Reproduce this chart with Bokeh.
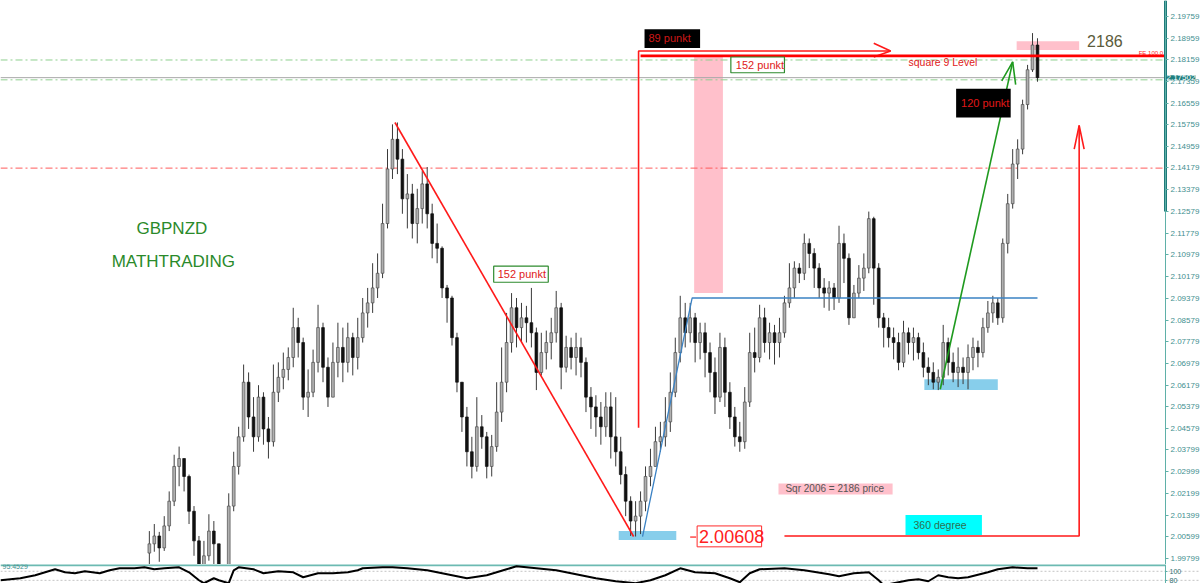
import numpy as np
from bokeh.plotting import figure
from bokeh.models import Range1d, FixedTicker, ColumnDataSource, Label, PrintfTickFormatter
from bokeh.layouts import column
from bokeh.embed import file_html
from bokeh.resources import INLINE
from bokeh.core.properties import value

# ---------------- data ----------------
first_open = 2.0000
closes = [
    2.0034, 2.0063, 2.0019, 2.0100, 2.0191, 2.0319, 2.0348, 2.0282, 2.0154, 2.0045,
    1.9935, 1.9990, 2.0081, 2.0034, 1.9899, 1.9862, 2.0173, 2.0319, 2.0428, 2.0629,
    2.0501, 2.0428, 2.0574, 2.0457, 2.0410, 2.0592, 2.0647, 2.0676, 2.0720, 2.0830,
    2.0775, 2.0574, 2.0592, 2.0702, 2.0830, 2.0684, 2.0574, 2.0702, 2.0757, 2.0702,
    2.0793, 2.0720, 2.0793, 2.0884, 2.0921, 2.0976, 2.1030, 2.1213, 2.1414, 2.1523,
    2.1450, 2.1304, 2.1322, 2.1213, 2.1268, 2.1359, 2.1249, 2.1140, 2.1122, 2.0976,
    2.0939, 2.0793, 2.0629, 2.0501, 2.0373, 2.0319, 2.0465, 2.0428, 2.0319, 2.0392,
    2.0519, 2.0629, 2.0775, 2.0903, 2.0830, 2.0866, 2.0848, 2.0811, 2.0665, 2.0738,
    2.0775, 2.0811, 2.0903, 2.0684, 2.0757, 2.0720, 2.0757, 2.0702, 2.0574, 2.0538,
    2.0501, 2.0465, 2.0538, 2.0428, 2.0373, 2.0289, 2.0191, 2.0118, 2.0136, 2.0191,
    2.0282, 2.0319, 2.0410, 2.0428, 2.0483, 2.0592, 2.0738, 2.0866, 2.0811, 2.0866,
    2.0775, 2.0811, 2.0738, 2.0665, 2.0574, 2.0757, 2.0592, 2.0501, 2.0428, 2.0410,
    2.0556, 2.0738, 2.0720, 2.0866, 2.0775, 2.0811, 2.0775, 2.0811, 2.0921, 2.0976,
    2.1049, 2.1030, 2.1140, 2.1103, 2.1049, 2.0976, 2.0957, 2.0976, 2.0939, 2.1140,
    2.1085, 2.0866, 2.0957, 2.1012, 2.1049, 2.1231, 2.1049, 2.0866, 2.0830, 2.0793,
    2.0775, 2.0702, 2.0811, 2.0775, 2.0793, 2.0738, 2.0684, 2.0665, 2.0629, 2.0647,
    2.0775, 2.0702, 2.0665, 2.0684, 2.0665, 2.0720, 2.0757, 2.0738, 2.0830, 2.0884,
    2.0921, 2.0866, 2.1140, 2.1286, 2.1432, 2.1487, 2.1651, 2.1779, 2.1870, 2.1750,
]
highs = [
    2.0081, 2.0107, 2.0078, 2.0136, 2.0227, 2.0362, 2.0392, 2.0348, 2.0289, 2.0173,
    2.0063, 2.0045, 2.0143, 2.0118, 1.9990, 1.9935, 2.0220, 2.0373, 2.0465, 2.0694,
    2.0665, 2.0574, 2.0618, 2.0592, 2.0501, 2.0694, 2.0702, 2.0738, 2.0757, 2.0903,
    2.0866, 2.0793, 2.0676, 2.0749, 2.0914, 2.0848, 2.0720, 2.0775, 2.0848, 2.0830,
    2.0848, 2.0811, 2.0866, 2.0939, 2.0976, 2.1067, 2.1103, 2.1286, 2.1487, 2.1578,
    2.1585, 2.1487, 2.1395, 2.1359, 2.1341, 2.1406, 2.1421, 2.1286, 2.1213, 2.1129,
    2.0987, 2.0947, 2.0811, 2.0629, 2.0538, 2.0428, 2.0574, 2.0508, 2.0446, 2.0435,
    2.0629, 2.0757, 2.0884, 2.0957, 2.0939, 2.0921, 2.0910, 2.0976, 2.0830, 2.0811,
    2.0819, 2.0866, 2.0965, 2.0921, 2.0800, 2.0793, 2.0811, 2.0793, 2.0720, 2.0611,
    2.0581, 2.0556, 2.0592, 2.0592, 2.0574, 2.0428, 2.0319, 2.0209, 2.0191, 2.0227,
    2.0319, 2.0384, 2.0465, 2.0483, 2.0574, 2.0665, 2.0793, 2.0947, 2.0921, 2.0921,
    2.0884, 2.0848, 2.0848, 2.0775, 2.0720, 2.0811, 2.0793, 2.0629, 2.0538, 2.0483,
    2.0611, 2.0811, 2.0830, 2.0914, 2.0903, 2.0848, 2.0840, 2.0866, 2.0947, 2.1067,
    2.1074, 2.1067, 2.1176, 2.1158, 2.1122, 2.1067, 2.1012, 2.1001, 2.0994, 2.1205,
    2.1176, 2.1103, 2.0987, 2.1060, 2.1103, 2.1257, 2.1238, 2.1067, 2.0884, 2.0866,
    2.0830, 2.0811, 2.0855, 2.0830, 2.0830, 2.0811, 2.0775, 2.0720, 2.0702, 2.0676,
    2.0840, 2.0793, 2.0738, 2.0757, 2.0720, 2.0768, 2.0793, 2.0782, 2.0866, 2.0928,
    2.0947, 2.0939, 2.1158, 2.1322, 2.1487, 2.1523, 2.1669, 2.1797, 2.1914, 2.1895,
]
lows = [
    1.9935, 2.0005, 1.9968, 2.0008, 2.0081, 2.0173, 2.0246, 2.0227, 2.0107, 1.9990,
    1.9881, 1.9899, 1.9972, 1.9935, 1.9844, 1.9808, 1.9844, 2.0154, 2.0289, 2.0410,
    2.0457, 2.0373, 2.0410, 2.0399, 2.0348, 2.0392, 2.0556, 2.0603, 2.0636, 2.0684,
    2.0720, 2.0527, 2.0501, 2.0574, 2.0665, 2.0629, 2.0538, 2.0611, 2.0647, 2.0629,
    2.0665, 2.0654, 2.0676, 2.0775, 2.0830, 2.0884, 2.0939, 2.1012, 2.1195, 2.1377,
    2.1395, 2.1249, 2.1195, 2.1158, 2.1140, 2.1213, 2.1195, 2.1085, 2.1067, 2.0939,
    2.0848, 2.0764, 2.0592, 2.0446, 2.0319, 2.0275, 2.0300, 2.0384, 2.0275, 2.0282,
    2.0373, 2.0483, 2.0592, 2.0738, 2.0757, 2.0775, 2.0775, 2.0757, 2.0600, 2.0654,
    2.0676, 2.0713, 2.0775, 2.0603, 2.0665, 2.0676, 2.0654, 2.0647, 2.0519, 2.0457,
    2.0428, 2.0399, 2.0428, 2.0348, 2.0319, 2.0253, 2.0136, 2.0063, 2.0061, 2.0070,
    2.0154, 2.0246, 2.0319, 2.0373, 2.0392, 2.0446, 2.0574, 2.0702, 2.0757, 2.0775,
    2.0702, 2.0713, 2.0647, 2.0592, 2.0512, 2.0556, 2.0538, 2.0457, 2.0392, 2.0373,
    2.0384, 2.0538, 2.0665, 2.0702, 2.0738, 2.0713, 2.0694, 2.0720, 2.0793, 2.0903,
    2.0939, 2.0994, 2.1005, 2.1049, 2.0976, 2.0939, 2.0903, 2.0892, 2.0895, 2.0921,
    2.0994, 2.0840, 2.0903, 2.0939, 2.0965, 2.1030, 2.0914, 2.0830, 2.0757, 2.0757,
    2.0713, 2.0673, 2.0684, 2.0731, 2.0709, 2.0713, 2.0647, 2.0618, 2.0603, 2.0600,
    2.0618, 2.0654, 2.0629, 2.0611, 2.0622, 2.0603, 2.0673, 2.0684, 2.0720, 2.0811,
    2.0848, 2.0840, 2.0848, 2.1103, 2.1268, 2.1377, 2.1468, 2.1633, 2.1771, 2.1735,
]

# oscillator sub-window (bar index, value)
osc_x = [-30, -26, -23, -21, -19, -17, -15, -13, -10, -8, -6, -3, -1, 1, 3, 6, 8, 10, 11, 13,
         14, 16, 17, 18, 21, 23, 26, 29, 31, 34, 37, 40, 42, 43, 47, 49, 52, 56, 60, 64,
         68, 72, 74, 78, 82, 86, 90, 94, 98, 101, 104, 107, 110, 114, 117, 119, 121, 123, 128, 132,
         137, 139, 142, 145, 147, 148, 150, 153, 155, 157, 159, 161, 163, 165, 169, 171, 174, 177, 179]
osc_v = [80.2, 84.6, 91.2, 97.8, 104.4, 97.8, 95.6, 100, 95.6, 102.2, 106.6, 106.6, 108.8, 104.4, 106.6, 108.8, 97.8, 80.2, 73.6, 84.6,
         80.2, 73.6, 102.2, 108.8, 104.4, 95.6, 100, 97.8, 86.8, 95.6, 95.6, 97.8, 102.2, 106.6, 108.8, 108.8, 106.6, 102.2, 93.4, 84.6,
         91.2, 104.4, 111, 106.6, 102.2, 93.4, 84.6, 78, 73.6, 80.2, 91.2, 106.6, 97.8, 95.6, 84.6, 75.8, 95.6, 104.4, 106.6, 102.2,
         93.4, 89, 95.6, 97.8, 80.2, 69.2, 73.6, 80.2, 82.4, 78, 91.2, 86.8, 84.6, 86.8, 97.8, 104.4, 108.8, 106.6, 106.6]
osc_levels = [100, 80]
osc_level_labels = ["100", "80"]
osc_value_text = "95.4529"

price_tick_labels = ["2.19759", "2.18959", "2.18159", "2.17359", "2.16559", "2.15759", "2.14959",
                     "2.14179", "2.13379", "2.12579", "2.11779", "2.10979", "2.10179", "2.09379",
                     "2.08579", "2.07779", "2.06979", "2.06179", "2.05379", "2.04579", "2.03799",
                     "2.02999", "2.02199", "2.01399", "2.00599", "1.99799"]
current_price = 2.1750
current_price_text = "2.17502"

# horizontal levels
level_green_1 = 2.1815
level_green_2 = 2.1742
level_red_dd = 2.1417
level_fe100 = 2.1830

# drawn objects (bar index, price)
red_trend_x = [49.5, 97.6]
red_trend_y = [2.1585, 2.0061]
blue_trend_x = [99.4, 109.4, 179.0]
blue_trend_y = [2.0061, 2.0939, 2.0939]
green_arrow_x = [159.4, 174.0]
green_arrow_y = [2.0603, 2.1808]
green_head_x = [171.8, 174.0, 174.6]
green_head_y = [2.1738, 2.1808, 2.1724]
red_bracket_x = [98.6, 98.6, 149.4]
red_bracket_y = [2.0461, 2.1848, 2.1848]
red_bracket_head_x = [146.0, 149.4, 146.0]
red_bracket_head_y = [2.1877, 2.1848, 2.1826]
fe_line_start = 99.0
red_base_x = [128.0, 187.4, 187.4]
red_base_y = [2.0063, 2.0063, 2.1574]
red_up_head_x = [186.4, 187.4, 188.4]
red_up_head_y = [2.1487, 2.1574, 2.1487]
low_leader_x = [109.0, 110.2]
low_leader_y = [2.0059, 2.0059]

# rectangles: left, right, top, bottom
pink_rects = dict(left=[109.8, 174.8], right=[115.6, 187.4], top=[2.1830, 2.1884], bottom=[2.0957, 2.1852])
blue_rects = dict(left=[94.6, 156.2], right=[106.2, 171.0], top=[2.0081, 2.0640], bottom=[2.0048, 2.0600])

# ---------------- figure ----------------
FONT = "Liberation Sans"
TEAL = "#5fb0a8"
TEAL_TXT = "#3f8f8f"
W = 1200
AXIS_PX = 1165
X0, XA = -30.0, 204.8                      # chart left edge, price-scale line
X1 = X0 + (XA - X0) * W / AXIS_PX          # canvas right edge
Y0, Y1 = 1.9958, 2.2034

p = figure(width=W, height=564, x_range=Range1d(X0, X1), y_range=Range1d(Y0, Y1),
           output_backend="svg", toolbar_location=None, y_axis_location="right",
           x_axis_location=None, min_border=0)
p.grid.visible = False
p.outline_line_color = None
p.background_fill_color = "white"

ax = p.yaxis[0]
ax.fixed_location = XA
ax.ticker = FixedTicker(ticks=[float(s) for s in price_tick_labels])
ax.formatter = PrintfTickFormatter(format="%.5f")
ax.major_label_text_font = FONT
ax.major_label_text_font_size = "8px"
ax.major_label_text_color = TEAL_TXT
ax.axis_line_color = TEAL
ax.major_tick_line_color = TEAL
ax.major_tick_out = 3
ax.major_tick_in = 0
ax.minor_tick_line_color = None
ax.major_label_standoff = 2

# background objects
p.quad(source=ColumnDataSource(pink_rects), left="left", right="right", top="top", bottom="bottom",
       fill_color="#ffc0cb", line_color=None)
p.quad(source=ColumnDataSource(blue_rects), left="left", right="right", top="top", bottom="bottom",
       fill_color="#87ceeb", line_color=None)

# level lines (end at the price scale)
p.line([X0, XA], [level_green_1] * 2, line_color="#8fcf8f", line_width=1, line_dash="7 3 2 3")
p.line([X0, XA], [level_green_2] * 2, line_color="#8fcf8f", line_width=1, line_dash="7 3 2 3")
p.line([X0, XA], [current_price] * 2, line_color="#a8a8a8", line_width=1)
p.line([X0, XA], [level_red_dd] * 2, line_color="#ff5a5a", line_width=1, line_dash="7 3 2 3")

# candles
opens = [first_open] + closes[:-1]
idx = list(range(len(closes)))
hi = np.maximum(np.maximum(highs, opens), closes)
lo = np.minimum(np.minimum(lows, opens), closes)
up = [i for i in idx if closes[i] >= opens[i]]
dn = [i for i in idx if closes[i] < opens[i]]
src_all = ColumnDataSource(dict(x=idx, hi=hi, lo=lo))
p.segment(x0="x", y0="lo", x1="x", y1="hi", source=src_all, line_color="#3a3a3a", line_width=1)
src_up = ColumnDataSource(dict(x=up, top=[closes[i] for i in up], bottom=[opens[i] for i in up]))
src_dn = ColumnDataSource(dict(x=dn, top=[opens[i] for i in dn], bottom=[closes[i] for i in dn]))
p.vbar(x="x", width=0.55, top="top", bottom="bottom", source=src_up,
       fill_color="#b0b0b0", line_color="#4a4a4a", line_width=0.7)
p.vbar(x="x", width=0.55, top="top", bottom="bottom", source=src_dn,
       fill_color="#111111", line_color="#111111", line_width=0.7)

# trend lines and arrows
p.line(red_trend_x, red_trend_y, line_color="#ff1a1a", line_width=1.6)
p.line(blue_trend_x, blue_trend_y, line_color="#3b82c4", line_width=1.3)
p.line(green_arrow_x, green_arrow_y, line_color="#1f9a1f", line_width=1.6)
p.line(green_head_x, green_head_y, line_color="#1f9a1f", line_width=1.6)
p.line(red_bracket_x, red_bracket_y, line_color="#ff1a1a", line_width=1.6)
p.line(red_bracket_head_x, red_bracket_head_y, line_color="#ff1a1a", line_width=1.6)
p.line([fe_line_start, XA], [level_fe100, level_fe100], line_color="#ff0000", line_width=2.6)
p.line(red_base_x, red_base_y, line_color="#ff1a1a", line_width=1.6)
p.line(red_up_head_x, red_up_head_y, line_color="#ff1a1a", line_width=1.6)
p.line(low_leader_x, low_leader_y, line_color="#ff1a1a", line_width=1.2)

# boxes behind text
p.quad(left=[99.8, 162.6], right=[111.0, 173.6], top=[2.1928, 2.1709], bottom=[2.1859, 2.1603],
       fill_color="black", line_color=None)
p.quad(left=[117.2, 69.4], right=[128.0, 80.4], top=[2.1826, 2.1056], bottom=[2.1768, 2.0997],
       fill_color="white", line_color="#2e8b2e", line_width=1.2)
p.quad(left=[110.4], right=[123.4], top=[2.0100], bottom=[2.0023],
       fill_color="white", line_color="#ff2a2a", line_width=1)
p.quad(left=[126.8], right=[149.8], top=[2.0256], bottom=[2.0216],
       fill_color="#ffc0cb", line_color=None)
p.quad(left=[152.4], right=[167.8], top=[2.0140], bottom=[2.0067],
       fill_color="#00ffff", line_color=None)


def txt(x, y, s, size, color):
    p.text(x=[x], y=[y], text=[s], text_font=value(FONT), text_font_size=size,
           text_color=color, text_baseline="middle", text_align="left")


txt(100.6, 2.1895, "89 punkt", "11px", "#d01818")
txt(118.2, 2.1797, "152 punkt", "11px", "#e02020")
txt(70.2, 2.1027, "152 punkt", "11px", "#e02020")
txt(163.6, 2.1658, "120 punkt", "11px", "#e01818")
txt(110.8, 2.0061, "2.00608", "18px", "#ff2020")
txt(128.2, 2.0236, "Sqr 2006 = 2186 price", "10px", "#555555")
txt(154.0, 2.0103, "360 degree", "10.5px", "#2f6f4f")
txt(189.0, 2.1884, "2186", "16px", "#5b5b3b")
txt(153.0, 2.1808, "square 9 Level", "10.5px", "#e02020")
txt(199.4, 2.1841, "FE 100.0", "6px", "#ff2020")
txt(-2.6, 2.1195, "GBPNZD", "17px", "#2a8a2a")
txt(-7.6, 2.1074, "MATHTRADING", "17px", "#2a8a2a")

# price-scale decorations: dark scroll marker and current price tag
p.segment(x0=[XA], y0=[2.1257], x1=[XA], y1=[Y1], line_color="#1f7a7a", line_width=3)
p.add_layout(Label(x=XA, y=current_price, text=current_price_text, x_offset=1,
                   text_font=FONT, text_font_size="8px", text_color="white",
                   text_baseline="middle", background_fill_color="#1f7f7f",
                   level="overlay"))

# ---------------- oscillator pane ----------------
p2 = figure(width=W, height=19, x_range=p.x_range, y_range=Range1d(73, 115),
            output_backend="svg", toolbar_location=None, y_axis_location="right",
            x_axis_location=None, min_border=0)
p2.grid.visible = False
p2.outline_line_color = None
a2 = p2.yaxis[0]
a2.fixed_location = XA
a2.ticker = FixedTicker(ticks=osc_levels)
a2.major_label_overrides = {lv: lb for lv, lb in zip(osc_levels, osc_level_labels)}
a2.major_label_text_font = FONT
a2.major_label_text_font_size = "7px"
a2.major_label_text_color = "#2f6f6f"
a2.axis_line_color = TEAL
a2.major_tick_line_color = TEAL
a2.major_tick_out = 2
a2.major_tick_in = 0
a2.minor_tick_line_color = None
a2.major_label_standoff = 2
for lv in osc_levels:
    p2.line([X0, X1], [lv, lv], line_color="#c4c4c4", line_width=1, line_dash="2 2")
p2.line([X0, XA], [114.2, 114.2], line_color="#6cbab2", line_width=3)
p2.line(osc_x, osc_v, line_color="black", line_width=2)
p2.add_layout(Label(x=X0 + 0.4, y=110.5, text=osc_value_text, text_font=FONT, text_font_size="7px",
                    text_color=TEAL_TXT, text_baseline="middle"))

layout = column(p, p2, spacing=0)
open("out.html", "w").write(file_html(layout, INLINE))
